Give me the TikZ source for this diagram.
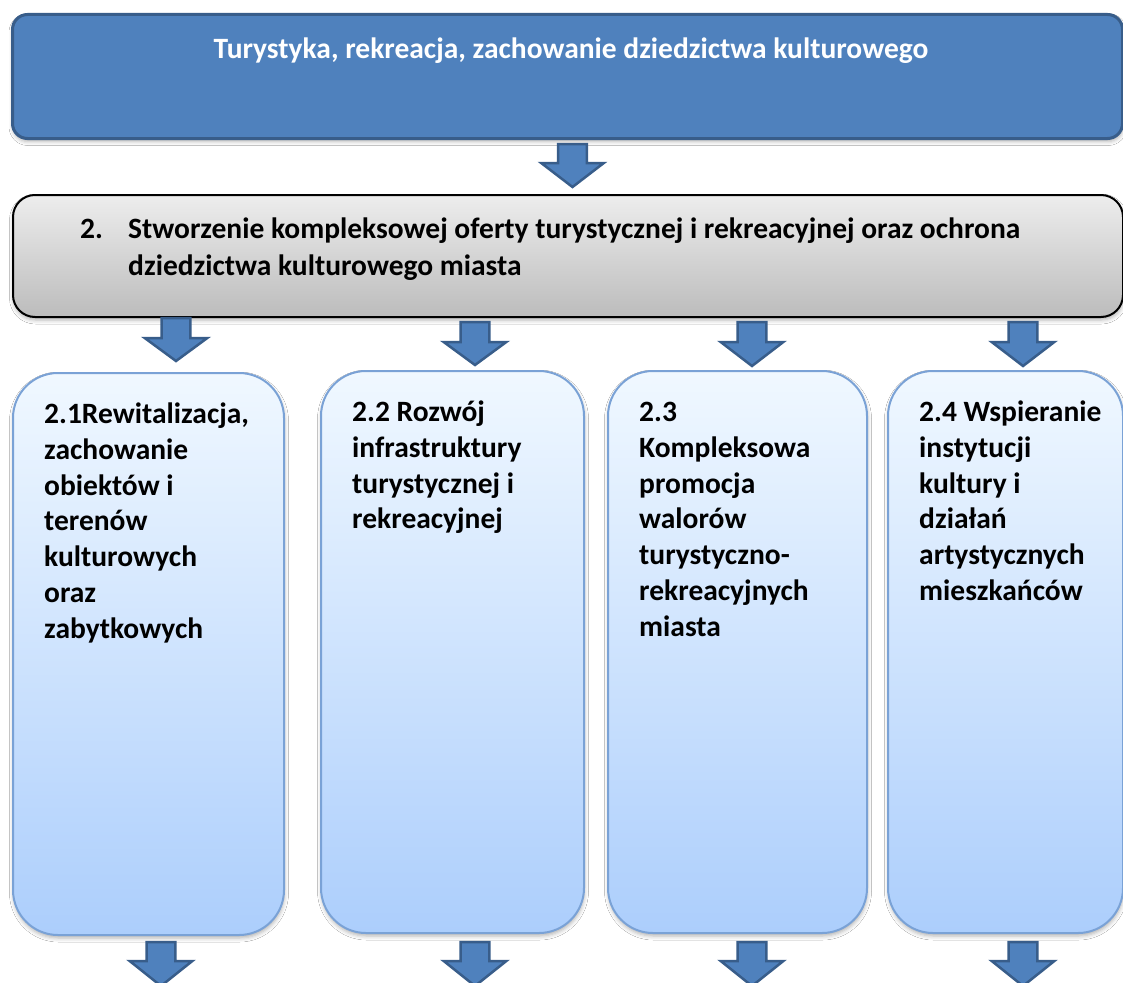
\documentclass[tikz,border=0pt]{standalone}
\usepackage{fontspec}
\setmainfont{Carlito}
\usetikzlibrary{shadows.blur}
\definecolor{topfill}{HTML}{4F81BD}
\definecolor{topline}{HTML}{385D8A}
\definecolor{graytop}{HTML}{EDEDED}
\definecolor{graybot}{HTML}{BCBCBC}
\definecolor{bluetop}{HTML}{F0F8FF}
\definecolor{bluebot}{HTML}{ACCEFC}
\definecolor{blueline}{HTML}{7AA2D6}
\tikzset{
  softshadow/.style={blur shadow={shadow xshift=0.5pt, shadow yshift=-3pt, shadow blur radius=4pt, shadow opacity=30}},
  topbox/.style={draw=topline, fill=topfill, line width=3pt, rounded corners=15pt, anchor=north west, inner sep=0pt, softshadow},
  graybox/.style={draw=black, line width=2pt, top color=graytop, bottom color=graybot, rounded corners=22pt, anchor=north west, inner sep=0pt, softshadow},
  subbox/.style={draw=blueline, line width=2pt, top color=bluetop, bottom color=bluebot, rounded corners=45pt, anchor=north west, inner sep=0pt, softshadow},
  titletext/.style={text=white, font=\fontsize{29.5}{36}\selectfont\bfseries, inner sep=0pt},
  bodytext/.style={text=black, font=\fontsize{29.5}{37}\selectfont\bfseries, inner sep=0pt, align=left},
  subtext/.style={text=black, font=\fontsize{29.5}{35.9}\selectfont\bfseries, inner sep=0pt, align=left, anchor=north west},
  blk/.style={fill=topfill, draw=topline, line width=2.5pt, line join=miter}
}
\newcommand\dnarrow[4]{%
  \filldraw[blk] (#1-14.3,#2) -- (#1+14.3,#2) -- (#1+14.3,#3) -- (#1+31.3,#3) -- (#1,#4) -- (#1-31.3,#3) -- (#1-14.3,#3) -- cycle;}
\begin{document}
\begin{tikzpicture}[x=1pt,y=-1pt]
\useasboundingbox (0,0) rectangle (1123,982);
\fill[white] (0,0) rectangle (1123,982);
% top box
\node[topbox, minimum width=1110pt, minimum height=124pt] (top) at (11,13) {};
\node[titletext, anchor=base] (title) at (571,59) {Turystyka, rekreacja, zachowanie dziedzictwa kulturowego};
% gray box
\node[graybox, minimum width=1110pt, minimum height=122pt] (goal) at (12,194) {};
\node[bodytext, anchor=base west] (goalnum) at (80,238) {2.};
\node[bodytext, anchor=north west] (goaltext) at (128,214) {\rule{0pt}{24pt}Stworzenie kompleksowej oferty turystycznej i rekreacyjnej oraz ochrona\\dziedzictwa kulturowego miasta};
% sub boxes
\node[subbox, minimum width=271pt, minimum height=562pt] (b1) at (12,372) {};
\node[subbox, minimum width=263pt, minimum height=562pt] (b2) at (320,370) {};
\node[subbox, minimum width=259pt, minimum height=562pt] (b3) at (607,370) {};
\node[subbox, minimum width=235pt, minimum height=562pt] (b4) at (887,370) {};
\node[subtext] (t1) at (44,399) {\rule{0pt}{24pt}2.1Rewitalizacja,\\zachowanie\\obiektów i\\terenów\\kulturowych\\oraz\\zabytkowych};
\node[subtext] (t2) at (352,397) {\rule{0pt}{24pt}2.2 Rozwój\\infrastruktury\\turystycznej i\\rekreacyjnej};
\node[subtext] (t3) at (639,397) {\rule{0pt}{24pt}2.3\\Kompleksowa\\promocja\\walorów\\turystyczno-\\rekreacyjnych\\miasta};
\node[subtext] (t4) at (919,397) {\rule{0pt}{24pt}2.4 Wspieranie\\instytucji\\kultury i\\działań\\artystycznych\\mieszkańców};
% block arrows
\dnarrow{572.5}{144}{163}{187}
\dnarrow{176}{318}{338}{361}
\dnarrow{475}{322}{342}{365}
\dnarrow{752}{322}{342}{366}
\dnarrow{1023}{322}{342}{366}
\dnarrow{161}{942}{961}{986}
\dnarrow{475}{942}{961}{986}
\dnarrow{752}{942}{961}{986}
\dnarrow{1023}{942}{961}{986}
\end{tikzpicture}
\end{document}
